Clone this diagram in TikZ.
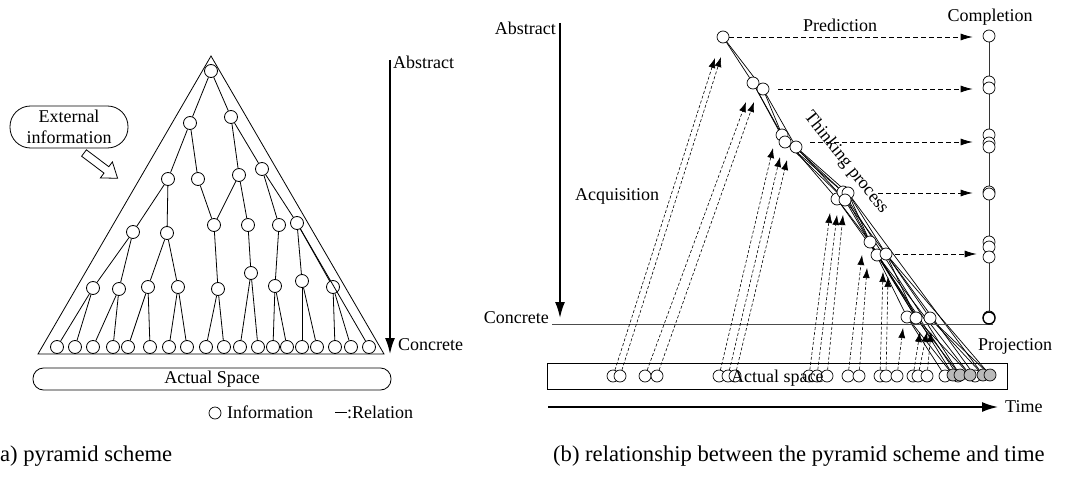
\documentclass[tikz,border=0pt]{standalone}
\usepackage{fontspec}
\setmainfont{Liberation Serif}
\usetikzlibrary{arrows.meta}
\pgfdeclarelayer{bg}
\pgfsetlayers{bg,main}
\begin{document}
\begin{tikzpicture}[x=1pt,y=-1pt,
  lbl/.style={font=\fontsize{18}{21}\selectfont, inner sep=0pt},
  captxt/.style={font=\fontsize{22.6}{26}\selectfont, inner sep=0pt},
  pn/.style={circle, draw, fill=white, inner sep=0pt, minimum size=13pt, line width=0.8pt},
  rn/.style={circle, draw, fill=white, inner sep=0pt, minimum size=12pt, line width=0.7pt},
  gn/.style={rn, fill=gray!55},
  pedge/.style={line width=0.8pt},
  think/.style={line width=0.7pt},
  acq/.style={line width=0.6pt, dash pattern=on 3pt off 2pt, -{Latex[length=10pt,width=7pt]}},
  pred/.style={line width=0.8pt, dash pattern=on 5pt off 3pt, -{Latex[length=12pt,width=7pt]}},
  axisline/.style={line width=1.8pt, -{Latex[length=16pt,width=10pt]}}]
\useasboundingbox (0,0) rectangle (1091,476);

% ================= (a) pyramid =================
\coordinate (apex) at (211,56);
\coordinate (bl) at (38,354);
\coordinate (br) at (384,354);
\draw[pedge] (apex) -- (bl) -- (br) -- cycle;

\foreach \n/\x/\y in {r/211/71, a1/190/123, a2/231/117,
  b1/168/179, b2/198/179, b3/239/175, b4/262/169,
  c1/133/232, c2/167/233, c3/214/225, c4/248/225, c5/279/225, c6/297/223,
  d1/93/288, d2/119/289, d3/148/287, d4/178/287, d5/218/289, d6/251/273, d7/275/286, d8/302/281, d9/333/287}
  \node[pn] (\n) at (\x,\y) {};
\foreach \i/\x in {1/57, 2/75, 3/93, 4/113, 5/128, 6/150, 7/169, 8/187, 9/206, 10/224, 11/240, 12/258, 13/273, 14/287, 15/302, 16/317, 17/335, 18/351, 19/369}
  \node[pn] (L\i) at (\x,347) {};

\foreach \a/\b in {r/a1, r/a2, a1/b1, a1/b2, a2/b3, a2/b4,
  b1/c1, b1/c2, b2/c3, b3/c3, b3/c4, b4/c5, b4/c6,
  c1/d1, c1/d2, c2/d3, c2/d4, c3/d5, c4/d6, c5/d7, c6/d8, c6/d9, c6/L19,
  d1/L1, d1/L2, d2/L3, d2/L4, d3/L5, d3/L6, d4/L7, d4/L8, d5/L9, d5/L10,
  d6/L11, d6/L12, d7/L13, d7/L14, d8/L15, d8/L16, d9/L17, d9/L18}
  \draw[pedge] (\a) -- (\b);

% external information
\node[draw, line width=0.8pt, rounded corners=20.5pt, minimum width=118pt, minimum height=42pt,
  align=center, font=\fontsize{18}{21}\selectfont, inner sep=0pt] (ext) at (69,127) {External\\information};
\draw[line width=0.8pt, fill=white] (81.6,156.2) -- (104.0,173.1) -- (100.4,177.9) -- (117.6,178.3)
  -- (112.4,161.9) -- (108.8,166.7) -- (86.4,149.8) -- cycle;

% abstract / concrete axis
\coordinate (la0) at (390,60);
\coordinate (la1) at (390,354);
\draw[axisline] (la0) -- (la1);
\node[lbl, anchor=base west] (labs) at (393,69) {Abstract};
\node[lbl, anchor=base west] (lcon) at (398,350) {Concrete};

% actual space
\node[draw, line width=0.8pt, rounded corners=10.5pt, minimum width=358pt, minimum height=22pt,
  inner sep=0pt, font=\fontsize{18}{21}\selectfont] (lasp) at (212,379) {Actual Space};

% legend
\node[rn] (legc) at (215,413) {};
\node[lbl, anchor=base west] (legi) at (227,418) {Information};
\node[lbl, anchor=base west] (legr) at (347,418) {:Relation};
\coordinate (lr0) at (335,412);
\draw[line width=0.8pt] (lr0) -- (lr0 -| legr.west);

\node[captxt, anchor=base west] (capa) at (0,461) {a) pyramid scheme};

% ================= (b) time =================
\coordinate (ra0) at (560,23);
\coordinate (ra1) at (560,318);
\draw[axisline] (ra0) -- (ra1);
\node[lbl, anchor=base east] (rabs) at (556,35) {Abstract};
\node[lbl, anchor=base east] (rcon) at (549,323) {Concrete};
\coordinate (cl0) at (552,324);
\coordinate (cl1) at (993,324);
\draw[line width=0.8pt, black!70] (cl0) -- (cl1);

% actual space box
\node[draw, line width=0.8pt, minimum width=460pt, minimum height=26pt, inner sep=0pt] (rasp) at (777,376) {};

% time axis
\coordinate (ta0) at (548,407);
\coordinate (ta1) at (998,407);
\draw[axisline] (ta0) -- (ta1);
\node[lbl, anchor=base west] (time) at (1005,412) {Time};

% completion column
\foreach \n/\y in {k1/36, k2/82, k3/88, k4/135, k5/143, k6/147, k7/192, k7b/194, k8/242, k9/247, k10/257, k11/317}
  \node[rn] (\n) at (989,\y) {};
\node[rn, line width=1.4pt] (k12) at (989,318) {};
\begin{pgfonlayer}{bg}
  \draw[line width=0.8pt, black!80] (k1) -- (k12);
\end{pgfonlayer}
\node[lbl, anchor=base] (comp) at (990,22) {Completion};
\node[lbl, anchor=base] (predl) at (840,32) {Prediction};

% thinking process nodes
\foreach \n/\x/\y in {t0/723/37, t1a/753/83, t1b/763/89, t2a/782/135, t2b/785/142, t2c/796/147,
  t3b/837/199, t3a/843/192, t3d/848/193, t3c/845/200, t4a/870/242, t4b/877/255, t4c/886/254,
  t5a/907/317, t5b/916/318, t5c/930/318}
  \node[rn] (\n) at (\x,\y) {};

% actual space nodes
\foreach \n/\x in {s1/613, s2/620, s3/645, s4/657, s5/719, s6/728, s7/735, s8/809, s9/817, s10/827,
  s11/848, s12/859, s13/880, s14/886, s15/897, s16/913, s17/918, s18/927, w1/945, w2/958, w3/975}
  \node[rn] (\n) at (\x,376) {};
\foreach \n/\x in {g1/953, g2/960, g3/970, g4/983, g5/990}
  \node[gn] (\n) at (\x,375) {};

\begin{pgfonlayer}{bg}
\foreach \a/\b in {t0/t1a, t0/t1b, t1a/t2a, t1a/t2b, t1b/t2b, t1b/t2c,
  t2a/t3b, t2a/t3a, t2b/t3a, t2b/t3c, t2c/t3c, t2c/t3d,
  t3a/t4a, t3b/t4a, t3b/t4b, t3c/t4b, t3c/t4c, t3d/t4c, t3d/t4a,
  t4a/t5a, t4b/t5b, t4c/t5c, t4a/t5b, t4c/t5b,
  t5a/w1, t5a/g1, t5b/g2, t5b/g3, t5c/g4, t5c/g5,
  t4a/g1, t4b/g3, t4c/g5, t3a/g2, t3d/g4, t4b/w2, t4c/w3}
  \draw[think] (\a) -- (\b);
\end{pgfonlayer}

\node[lbl, rotate=-51.5] (tp) at (846,163) {Thinking process};
\node[lbl, anchor=base west] (acql) at (575,200) {Acquisition};
\node[lbl, anchor=base west] (proj) at (978,350) {Projection};
\node[lbl, anchor=base west] (aspt) at (731,382) {Actual space};

% prediction arrows
\draw[pred, shorten >=10pt] (t0.east) -- (t0.east -| k1.west);
\draw[pred, shorten <=9pt, shorten >=10pt] (t1b.east) -- (t1b.east -| k3.west);
\draw[pred, shorten <=19pt, shorten >=10pt] (t2b.east) -- (t2b.east -| k5.west);
\draw[pred, shorten <=24pt, shorten >=10pt] (t3d.east) -- (t3d.east -| k7.west);
\draw[pred, shorten <=3pt, shorten >=6pt] (t4c.east) -- (t4c.east -| k9.west);

% acquisition arrows
\foreach \s/\x/\y in {s1/715/58, s2/721/57, s3/746/102, s4/754/102, s5/773/148, s6/780/157, s7/787/160,
  s8/830/213, s9/837/215, s10/843/215, s11/862/255, s12/867/268, s13/883/272, s14/888/277, s15/903/328,
  s16/920/332, s17/927/332, s18/931/332}
{
  \coordinate (q\s) at (\x,\y);
  \draw[acq] (\s) -- (q\s);
}

\node[captxt, anchor=base west] (capb) at (553,461) {(b) relationship between the pyramid scheme and time};
\end{tikzpicture}
\end{document}
